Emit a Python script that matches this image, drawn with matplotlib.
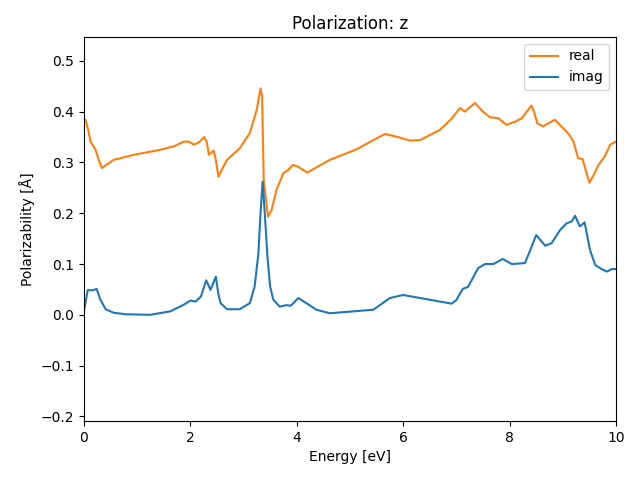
import matplotlib
matplotlib.use("Agg")
import matplotlib.pyplot as plt
import numpy as np

# real part
x_real = [0.0, 0.03, 0.08, 0.126, 0.22, 0.28, 0.34, 0.42, 0.56, 0.94, 1.44, 1.70, 1.88,
          1.97, 2.07, 2.17, 2.26, 2.31, 2.35, 2.44, 2.48, 2.53, 2.60, 2.69, 2.93, 3.12,
          3.25, 3.32, 3.35, 3.38, 3.46, 3.53, 3.62, 3.75, 3.83, 3.93, 4.02, 4.20, 4.40,
          4.62, 5.13, 5.44, 5.66, 5.9, 6.13, 6.32, 6.69, 6.90, 7.07, 7.16, 7.35, 7.50,
          7.63, 7.79, 7.94, 8.10, 8.23, 8.41, 8.46, 8.52, 8.63, 8.85, 9.01, 9.12, 9.20,
          9.29, 9.37, 9.43, 9.50, 9.58, 9.67, 9.79, 9.89, 10.0]
y_real = [0.386, 0.384, 0.365, 0.341, 0.325, 0.305, 0.289, 0.295, 0.305, 0.315, 0.325,
          0.332, 0.341, 0.341, 0.335, 0.340, 0.350, 0.340, 0.315, 0.323, 0.305, 0.272,
          0.287, 0.305, 0.328, 0.358, 0.404, 0.446, 0.430, 0.266, 0.193, 0.207, 0.246,
          0.279, 0.284, 0.295, 0.292, 0.280, 0.292, 0.305, 0.326, 0.344, 0.356, 0.350,
          0.343, 0.344, 0.364, 0.385, 0.407, 0.400, 0.417, 0.400, 0.389, 0.387, 0.374,
          0.380, 0.387, 0.412, 0.400, 0.377, 0.371, 0.384, 0.367, 0.355, 0.341, 0.308,
          0.307, 0.285, 0.260, 0.275, 0.295, 0.312, 0.335, 0.341]

# imaginary part
x_imag = [0.0, 0.075, 0.16, 0.24, 0.31, 0.41, 0.56, 0.80, 1.25, 1.63, 1.88, 2.0, 2.1,
          2.2, 2.30, 2.38, 2.48, 2.53, 2.57, 2.69, 2.93, 3.12, 3.21, 3.28, 3.32, 3.36,
          3.40, 3.45, 3.50, 3.56, 3.68, 3.80, 3.89, 4.03, 4.15, 4.37, 4.62, 5.44, 5.75,
          6.0, 6.32, 6.91, 7.0, 7.12, 7.22, 7.41, 7.54, 7.70, 7.87, 8.04, 8.19, 8.29,
          8.38, 8.50, 8.67, 8.79, 8.95, 9.07, 9.17, 9.23, 9.32, 9.41, 9.51, 9.61, 9.73,
          9.83, 9.92, 10.0]
y_imag = [0.007, 0.049, 0.048, 0.051, 0.030, 0.011, 0.004, 0.001, 0.0, 0.007, 0.020,
          0.028, 0.026, 0.036, 0.068, 0.049, 0.075, 0.040, 0.023, 0.011, 0.011, 0.023,
          0.056, 0.121, 0.200, 0.262, 0.200, 0.115, 0.056, 0.030, 0.016, 0.019, 0.018,
          0.033, 0.025, 0.010, 0.003, 0.010, 0.033, 0.039, 0.033, 0.022, 0.029, 0.051,
          0.055, 0.092, 0.100, 0.100, 0.110, 0.100, 0.101, 0.102, 0.125, 0.157, 0.136,
          0.141, 0.167, 0.180, 0.184, 0.195, 0.174, 0.182, 0.128, 0.098, 0.090, 0.085,
          0.090, 0.090]

fig, ax = plt.subplots(figsize=(6.4, 4.8), dpi=100)
ax.plot(x_real, y_real, color="C1", label="real")
ax.plot(x_imag, y_imag, color="C0", label="imag")
ax.set_xlim(0, 10)
ax.set_ylim(-0.209, 0.547)
ax.set(xlabel="Energy [eV]", ylabel="Polarizability [Å]", title="Polarization: z")
ax.legend(loc="upper right")
fig.subplots_adjust(left=0.131, right=0.9625, top=0.923, bottom=0.123)
fig.savefig("out.png")
